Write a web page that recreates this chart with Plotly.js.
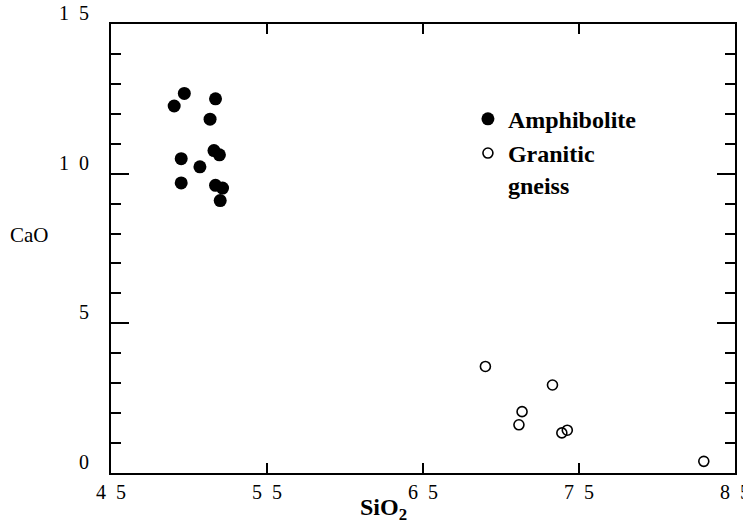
<!DOCTYPE html>
<html>
<head>
<meta charset="utf-8">
<script src="https://cdn.plot.ly/plotly-3.0.1.min.js"></script>
<style>html,body{margin:0;padding:0;background:#fff;}#chart{width:743px;height:524px;}</style>
</head>
<body>
<div id="chart"></div>
<script>
// Amphibolite (filled circles)
const amphSiO2 = [49.7, 49.05, 51.7, 51.35, 51.6, 51.95, 49.5, 50.7, 49.5, 51.7, 52.15, 52.0];
const amphCaO  = [12.68, 12.26, 12.5, 11.82, 10.77, 10.63, 10.5, 10.23, 9.69, 9.61, 9.52, 9.1];
// Granitic gneiss (open circles)
const gneissSiO2 = [69.0, 73.3, 71.35, 71.15, 73.9, 74.25, 83.0];
const gneissCaO  = [3.56, 2.94, 2.05, 1.61, 1.34, 1.43, 0.39];
// Tick labels
const xTickVals = [45, 55, 65, 75, 85];
const xTickText = ['4\u20025', '5\u20025', '6\u20025', '7\u20025', '8\u20025'];
const yTickVals = [0, 5, 10, 15];
const yTickText = ['0', '5', '1\u20020', '1\u20025'];
const seriesNames = ['Amphibolite', 'Granitic<br>gneiss'];

const serif = 'Liberation Serif, Times New Roman, serif';

const traces = [
  {
    x: amphSiO2, y: amphCaO, mode: 'markers', type: 'scatter', name: seriesNames[0],
    marker: {symbol: 'circle', size: 13, color: '#000'}
  },
  {
    x: gneissSiO2, y: gneissCaO, mode: 'markers', type: 'scatter', name: seriesNames[1],
    marker: {symbol: 'circle-open', size: 10, color: '#000', line: {width: 1.6, color: '#000'}}
  }
];

const layout = {
  width: 743, height: 524,
  margin: {l: 111, r: 8, t: 24, b: 51},
  paper_bgcolor: '#fff', plot_bgcolor: '#fff',
  font: {family: serif, color: '#000', size: 18},
  showlegend: true,
  legend: {
    x: 0.572, y: 0.838, xanchor: 'left', yanchor: 'top',
    font: {family: serif, size: 24, color: '#000', weight: 'bold'},
    bgcolor: 'rgba(0,0,0,0)', borderwidth: 0, valign: 'top',
    itemsizing: 'trace', tracegroupgap: 0
  },
  xaxis: {
    range: [45, 85], showgrid: false, zeroline: false,
    showline: true, linecolor: '#000', linewidth: 2, mirror: 'ticks',
    ticks: 'inside', ticklen: 10, tickwidth: 2, tickcolor: '#000',
    tickvals: xTickVals, ticktext: xTickText,
    tickfont: {family: serif, size: 20, color: '#000'},
    ticklabeloverflow: 'allow'
  },
  yaxis: {
    range: [0, 15], showgrid: false, zeroline: false,
    showline: true, linecolor: '#000', linewidth: 2, mirror: 'ticks',
    ticks: 'inside', ticklen: 18, tickwidth: 2, tickcolor: '#000',
    tickvals: yTickVals, ticktext: yTickText,
    tickfont: {family: serif, size: 20, color: '#000'},
    ticklabelshift: -11, ticklabelstandoff: 16,
    minor: {dtick: 1, ticks: 'inside', ticklen: 10, tickwidth: 2, tickcolor: '#000', showgrid: false}
  },
  annotations: [
    {text: 'CaO', xref: 'paper', yref: 'paper', x: -0.131, y: 0.53, showarrow: false,
     xanchor: 'center', yanchor: 'middle', font: {family: serif, size: 21, color: '#000'}},
    {text: '<b>SiO<sub>2</sub></b>', xref: 'paper', yref: 'paper', x: 0.436, y: -0.08, showarrow: false,
     xanchor: 'center', yanchor: 'middle', font: {family: serif, size: 24, color: '#000'}}
  ]
};

Plotly.newPlot('chart', traces, layout, {displayModeBar: false, staticPlot: true});
</script>
</body>
</html>
